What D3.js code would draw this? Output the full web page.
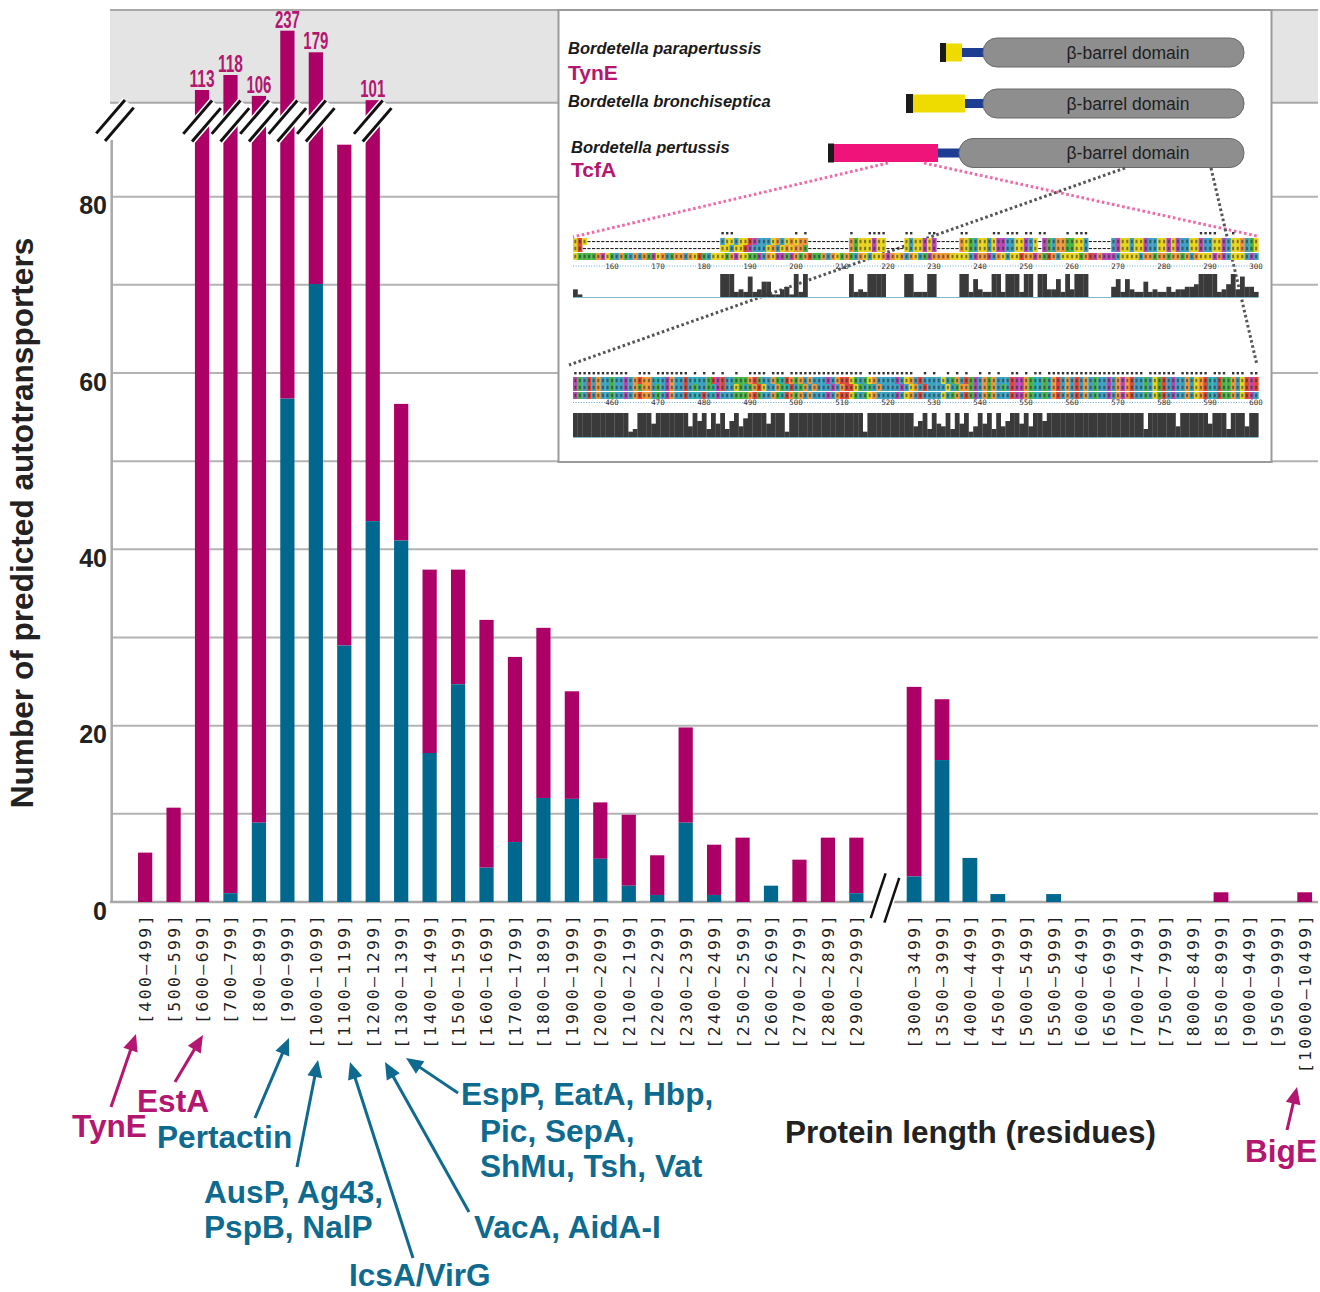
<!DOCTYPE html>
<html><head><meta charset="utf-8">
<script src="https://cdn.jsdelivr.net/npm/d3@7"></script>
<style>body{margin:0;background:#fff}svg{display:block}</style>
</head><body>
<svg id="c" width="1320" height="1292"></svg>
<script>
// ---------- DATA ----------
const binsLeft = ["[400–499]","[500–599]","[600–699]","[700–799]","[800–899]","[900–999]","[1000–1099]","[1100–1199]","[1200–1299]","[1300–1399]","[1400–1499]","[1500–1599]","[1600–1699]","[1700–1799]","[1800–1899]","[1900–1999]","[2000–2099]","[2100–2199]","[2200–2299]","[2300–2399]","[2400–2499]","[2500–2599]","[2600–2699]","[2700–2799]","[2800–2899]","[2900–2999]"];
const totalLeft = [5.6, 10.7, 113, 118, 106, 237, 179, 85.9, 101, 56.5, 37.7, 37.7, 32.0, 27.8, 31.1, 23.9, 11.3, 9.9, 5.3, 19.8, 6.5, 7.3, 1.85, 4.8, 7.3, 7.3];
const tealLeft  = [0, 0, 0, 1.0, 9.0, 57.1, 70.1, 29.1, 43.2, 41.0, 16.9, 24.7, 3.9, 6.8, 11.8, 11.7, 4.9, 1.85, 0.8, 9.0, 0.8, 0, 1.85, 0, 0, 1.0];
const binsRight = ["[3000–3499]","[3500–3999]","[4000–4499]","[4500–4999]","[5000–5499]","[5500–5999]","[6000–6499]","[6500–6999]","[7000–7499]","[7500–7999]","[8000–8499]","[8500–8999]","[9000–9499]","[9500–9999]","[10000–10499]"];
const totalRight = [24.4, 23.0, 5.0, 0.9, 0, 0.9, 0, 0, 0, 0, 0, 1.1, 0, 0, 1.1];
const tealRight  = [2.9, 16.1, 5.0, 0.9, 0, 0.9, 0, 0, 0, 0, 0, 0, 0, 0, 0];
const yTickValues = [0, 20, 40, 60, 80];
const gridValues = [10, 20, 30, 40, 50, 60, 70, 80];
const yTitle = "Number of predicted autotransporters";
const xTitle = "Protein length (residues)";

const species = ["Bordetella parapertussis", "Bordetella bronchiseptica", "Bordetella pertussis"];
const proteinNames = ["TynE", "", "TcfA"];
const domainLabel = "β-barrel domain";

const aln1 = [
 "PRP" + "-----------------------------" + "APPLPPKDLALPGLPGPGG" + "---------" + "GTPPPEPP" + "----" + "PAPPEPE" + "-----" + "GPNAPPVPEDAAPPELP-DNAGGSNPPF" + "-----" + "AEPPAPPEAAPPEPEAAPPEALPPEAPPGAQP",
 "PR-" + "-----------------------------" + "PPLPPKDLALPGLPGPGGS" + "---------" + "GTPPPEPP" + "----" + "PAPPEPE" + "-----" + "GPNAPPVPEDAAPPELP-DNAGGSNPPF" + "-----" + "AEPPAPPEAAPPEPEAAPPEALPPEAPPGAQP",
 "PSTSTGDPSAGNAGAGTEPGASGGAGPKSAPPPSGEPPSSDAGPEDSDGSGRSSGAGPSGSAGPFPPGEGPGVGPATDGGGGPPPPFDGGEAGPAPPRGGDGSRGAPPPPSGRDGDEDCPPPPAGGNGGNGGNGAGPPPDGDAPPPFEA"
];
const hist1 = "310" + "00000000000000000000000000000" + "9992328236611341929" + "000000000" + "92329999" + "0000" + "9922299" + "00000" + "9927322992999299099337293999" + "00000" + "47273226232242334459999235938442";
const ruler1 = [160,170,180,190,200,210,220,230,240,250,260,270,280,290,300];
const aln2 = [
 "DSVRVGAATAIEIGKGGFYLDGIVRVHAFSRERVASTQGRSVAGQYRGNGVGAILELGKRPTWNPGAMFVEVPGLRVAAFPAQGAKTEAGNGLAIRDDGTHMNLGRLGLRVGAQVFDIGDGRVVQVPNKLEVLGVPGRYVRTNGVPKER",
 "DSVRVGAATAIEIGSGGFTMDGIVRVNAFSHEKVAPSAQGRPVAGQYRANGVGAILELGKRPTWNAGAMFVEVPGLKAVAFPAQGGSEAGNGLTIRDDGTHMNLGRVGLRVGAQVFDIGDGRVVQVPNKLEVLGVPGRYVRTNGVPKER",
 "DSVRVGAATAIEIGKGGFTMDGIVRVHARAHEFVASTQGRSVAGQYRGNGVGAILELGKRPTWNPGAMFVEVPGLRVAAFPAQGAKTEAGNGLAIRDDGTHMNLGRLGLRVGAQVFDIGDGRVVQVPNKLEVLGVPGRYVRTNGVPKEA"
];
const hist2 = "9999999999" + "9923999599" + "9999949693" + "9593694799" + "9959992999" + "9999999999" + "9992999999" + "9999469395" + "4939592495" + "9394699594" + "9969999999" + "9999999999" + "9999399999" + "9499999959" + "993999499";
const ruler2 = [460,470,480,490,500,510,520,530,540,550,560,570,580,590,600];

const annotationTexts = ["EstA","TynE","Pertactin","EspP, EatA, Hbp,","Pic, SepA,","ShMu, Tsh, Vat","AusP, Ag43,","PspB, NalP","VacA, AidA-I","IcsA/VirG","BigE"];

// ---------- STYLE ----------
const MAG = "#ad0066", TEAL = "#00688f";
const MAG_T = "#b3176f", TEAL_T = "#0e6a8e";
const GRID = "#b3b3b3";
const SANS = "'Liberation Sans', Arial, Helvetica, sans-serif";

const svg = d3.select("#c");

// ---------- SCALES ----------
const xL = d3.scaleBand().domain(binsLeft).range([123.8, 877.7]).paddingInner(0.5).paddingOuter(0.5);
const xR = d3.scaleBand().domain(binsRight).range([893.6, 1325.2]).padding(0.47);
const yLow = d3.scaleLinear().domain([0, 80]).range([902, 196.7]);
const yHigh = d3.scaleLinear().domain([100, 113, 118, 237]).range([101, 90, 75, 30.7]);
const yPos = v => v <= 92 ? yLow(v) : yHigh(v);

// ---------- BACKGROUND ----------
svg.append("rect").attr("x",110).attr("y",10).attr("width",1208).attr("height",92.7).attr("fill","#e4e4e4");
[10, 102.7].forEach(y => svg.append("line").attr("x1",110).attr("x2",1318).attr("y1",y).attr("y2",y).attr("stroke","#a8a8a8").attr("stroke-width",2));
svg.append("g").selectAll("line").data(gridValues).join("line")
  .attr("x1",112).attr("x2",1318).attr("y1",d=>yLow(d)).attr("y2",d=>yLow(d))
  .attr("stroke",GRID).attr("stroke-width",2);
svg.append("line").attr("x1",111.7).attr("x2",111.7).attr("y1",140).attr("y2",902).attr("stroke","#a8a8a8").attr("stroke-width",2.5);
svg.append("line").attr("x1",110).attr("x2",1318).attr("y1",902).attr("y2",902).attr("stroke","#a8a8a8").attr("stroke-width",2.5);

// ---------- BARS ----------
function drawBars(x, bins, totals, teals){
  const g = svg.append("g");
  const rows = bins.map((b,i)=>({b, t: totals[i], c: teals[i]}));
  g.selectAll("rect.m").data(rows.filter(d=>d.t - d.c > 0)).join("rect")
    .attr("x",d=>x(d.b)).attr("width",x.bandwidth())
    .attr("y",d=>yPos(d.t)).attr("height",d=>yLow(d.c)-yPos(d.t)).attr("fill",MAG);
  g.selectAll("rect.t").data(rows.filter(d=>d.c > 0)).join("rect")
    .attr("x",d=>x(d.b)).attr("width",x.bandwidth())
    .attr("y",d=>yLow(d.c)).attr("height",d=>yLow(0)-yLow(d.c)).attr("fill",TEAL);
  g.selectAll("text").data(rows.filter(d=>d.t > 92)).join("text")
    .attr("x",d=>x(d.b)+x.bandwidth()/2).attr("y",d=>yPos(d.t)-3).attr("text-anchor","middle")
    .attr("textLength",25).attr("lengthAdjust","spacingAndGlyphs")
    .style("font-family",SANS).style("font-weight","bold").style("font-size","23px").attr("fill",MAG_T)
    .text(d=>d3.format("d")(d.t));
}
drawBars(xL, binsLeft, totalLeft, tealLeft);
drawBars(xR, binsRight, totalRight, tealRight);

// ---------- BREAK MARKS ----------
function breakMark(cx, cy, ux, uy, half, gap, bw){
  const g = svg.append("g");
  const nx = -uy, ny = ux;
  g.append("line").attr("x1",cx-ux*half).attr("y1",cy-uy*half).attr("x2",cx+ux*half).attr("y2",cy+uy*half)
    .attr("stroke","#fff").attr("stroke-width",gap*2+bw+3);
  [-1,1].forEach(s=>{
    const ox = cx + s*nx*gap, oy = cy + s*ny*gap;
    g.append("line").attr("x1",ox-ux*half).attr("y1",oy-uy*half).attr("x2",ox+ux*half).attr("y2",oy+uy*half)
      .attr("stroke","#111").attr("stroke-width",bw);
  });
}
const bu = [0.652, -0.757];
breakMark(115, 120.5, bu[0], bu[1], 22, 5.8, 3);
binsLeft.forEach((b,i)=>{ if (totalLeft[i] > 92) breakMark(xL(b)+xL.bandwidth()/2, 121, bu[0], bu[1], 22, 5.8, 3); });
breakMark(885, 898, 0.316, -0.949, 23.5, 7.2, 2.5);

// ---------- AXES ----------
const yAx = svg.append("g").attr("transform","translate(107,0)")
  .call(d3.axisLeft(yLow).tickValues(yTickValues).tickSize(0).tickPadding(0));
yAx.select(".domain").remove();
yAx.selectAll("text").attr("x",0).attr("dy",null).attr("y",17)
  .style("font-family",SANS).style("font-weight","bold").style("font-size","25px").attr("fill","#222");

function xAxis(x){
  const g = svg.append("g").attr("transform","translate(0,913)").call(d3.axisBottom(x).tickSize(0).tickPadding(0));
  g.select(".domain").remove();
  g.selectAll("text").attr("transform","rotate(-90)").attr("text-anchor","end")
    .attr("x",0).attr("y",0).attr("dy","0.36em")
    .style("font-family","'DejaVu Sans Mono', monospace").style("font-size","16.5px")
    .style("letter-spacing","2.4px").attr("fill","#1e1e1e");
}
xAxis(xL); xAxis(xR);

svg.append("text").attr("transform","translate(33,523) rotate(-90)").attr("text-anchor","middle")
  .style("font-family",SANS).style("font-weight","bold").style("font-size","31.6px").attr("fill","#222").text(yTitle);
svg.append("text").attr("x",785).attr("y",1143)
  .style("font-family",SANS).style("font-weight","bold").style("font-size","31.5px").attr("fill","#222").text(xTitle);

// ---------- ANNOTATIONS ----------
const ann = svg.append("g");
function arrow(x1,y1,x2,y2,color){
  const dx=x2-x1, dy=y2-y1, L=Math.hypot(dx,dy), ux=dx/L, uy=dy/L;
  const hl=17, hw=7.5, bx=x2-ux*hl, by=y2-uy*hl;
  ann.append("line").attr("x1",x1).attr("y1",y1).attr("x2",bx+ux*2).attr("y2",by+uy*2).attr("stroke",color).attr("stroke-width",3);
  ann.append("polygon").attr("points",[[x2,y2],[bx-uy*hw,by+ux*hw],[bx+uy*hw,by-ux*hw]].map(p=>p.join(",")).join(" ")).attr("fill",color);
}
const annLayout = [
  [137,1112,MAG_T],[72,1137,MAG_T],[157,1148,TEAL_T],[461,1105,TEAL_T],[480,1142,TEAL_T],[480,1177,TEAL_T],
  [204,1203,TEAL_T],[204,1238,TEAL_T],[474,1238,TEAL_T],[349,1286,TEAL_T],[1245,1162,MAG_T]
];
annotationTexts.forEach((t,i)=>{
  ann.append("text").attr("x",annLayout[i][0]).attr("y",annLayout[i][1]).attr("fill",annLayout[i][2])
    .style("font-family",SANS).style("font-weight","bold").style("font-size","31.6px").text(t);
});
arrow(111,1107,136,1034,MAG_T);
arrow(175,1082,203,1035,MAG_T);
arrow(255,1118,289,1038,TEAL_T);
arrow(297,1167,318,1060,TEAL_T);
arrow(413,1258,350,1062,TEAL_T);
arrow(469,1212,385,1062,TEAL_T);
arrow(458,1093,406,1058,TEAL_T);
arrow(1287,1130,1297,1087,MAG_T);

// ---------- INSET ----------
const ins = svg.append("g");
ins.append("rect").attr("x",558.5).attr("y",10).attr("width",713).attr("height",452).attr("fill","#fff").attr("stroke","#9a9a9a").attr("stroke-width",2);

const spLayout = [[568,54],[568,107],[571,153]];
species.forEach((s,i)=>{
  ins.append("text").attr("x",spLayout[i][0]).attr("y",spLayout[i][1]).style("font-family",SANS)
    .style("font-weight","bold").style("font-style","italic").style("font-size","16.5px").attr("fill","#1a1a1a").text(s);
});
const pnLayout = [[568,80],null,[571,177]];
proteinNames.forEach((p,i)=>{ if(!p) return;
  ins.append("text").attr("x",pnLayout[i][0]).attr("y",pnLayout[i][1]).style("font-family",SANS)
    .style("font-weight","bold").style("font-size","21px").attr("fill",MAG_T).text(p);
});

const domLayout = [
  [940, 946, 962, 983, 52.5, "#eedc00"],
  [906, 913, 965, 983, 103.5, "#eedc00"],
  [828, 834, 938, 959, 153, "#ee1479"]
];
const dots = svg.append("g");
function dotted(x1,y1,x2,y2,color){
  dots.append("line").attr("x1",x1).attr("y1",y1).attr("x2",x2).attr("y2",y2)
    .attr("stroke",color).attr("stroke-width",3).attr("stroke-dasharray","2.6,2.6");
}
dotted(888,163,573,237,"#f06aa8");
dotted(924,163,1257,236,"#f06aa8");
dotted(1125,168,569,365,"#555");
dotted(1211,168,1257,365,"#555");

domLayout.forEach((d,i)=>{
  const [bx,px,lx,gx,cy,pc] = d;
  ins.append("rect").attr("x",lx).attr("y",cy-4.5).attr("width",gx-lx+5).attr("height",9).attr("fill","#1d3d92");
  ins.append("rect").attr("x",gx).attr("y",cy-14.5).attr("width",1244-gx).attr("height",29).attr("rx",14).attr("fill","#8e8e8e").attr("stroke","#6a6a6a").attr("stroke-width",1);
  ins.append("rect").attr("x",px).attr("y",cy-9).attr("width",lx-px).attr("height",18).attr("fill",pc);
  ins.append("rect").attr("x",bx).attr("y",cy-9.5).attr("width",px-bx).attr("height",19).attr("fill","#1a1a1a");
  ins.append("text").attr("x",1128).attr("y",cy+6).attr("text-anchor","middle").style("font-family",SANS)
    .style("font-size","17.5px").attr("fill","#1e1e1e").text(domainLabel);
});

const resColor = c => {
  if ("AILMFWVC".includes(c)) return "#3fa2c2";
  if (c === "P") return "#e8d420";
  if (c === "G") return "#ef983c";
  if ("DE".includes(c)) return "#b84ab4";
  if ("KR".includes(c)) return "#de4a3c";
  if ("NQST".includes(c)) return "#4bb44a";
  if ("HY".includes(c)) return "#28b4b0";
  return "#ffffff";
};
function alignment(seqs, hist, ruler, startPos, yStar, rowYs, yRuler, yTop, yBase){
  const g = svg.append("g");
  const N = 149;
  const col = d3.scaleLinear().domain([0, N]).range([573, 573 + N*4.6]);
  const cw = col(1) - col(0);
  seqs.forEach((s, r) => {
    const cells = s.split("").map((c,i)=>({c,i})).filter(d=>d.i < N);
    g.selectAll(null).data(cells.filter(d=>d.c!=="-")).join("rect")
      .attr("x",d=>col(d.i)).attr("y",rowYs[r]).attr("width",cw+0.25).attr("height",7).attr("fill",d=>resColor(d.c));
    g.selectAll(null).data(cells.filter(d=>d.c!=="-")).join("rect")
      .attr("x",d=>col(d.i)+1.3).attr("y",rowYs[r]+1.8).attr("width",2).attr("height",3.4).attr("fill","#222").attr("opacity",0.55);
    g.selectAll(null).data(cells.filter(d=>d.c==="-")).join("rect")
      .attr("x",d=>col(d.i)+0.6).attr("y",rowYs[r]+3).attr("width",3.2).attr("height",1.1).attr("fill","#222");
  });
  const hv = hist.split("").map((v,i)=>({v:+v,i})).filter(d=>d.i < N);
  g.selectAll(null).data(hv.filter(d=>d.v===9)).join("rect")
    .attr("x",d=>col(d.i)+1.2).attr("y",yStar).attr("width",2.4).attr("height",2.4).attr("fill","#333");
  g.append("line").attr("x1",col(0)).attr("x2",col(N)).attr("y1",yRuler).attr("y2",yRuler)
    .attr("stroke","#6aa8d0").attr("stroke-width",1).attr("stroke-dasharray","1,1.6");
  g.selectAll(null).data(ruler).join("text")
    .attr("x",d=>col(d - startPos + 0.5)).attr("y",yRuler+2.5).attr("text-anchor","middle")
    .style("font-family","'DejaVu Sans Mono', monospace").style("font-size","7.5px").attr("fill","#333").text(d=>d);
  const hy = d3.scaleLinear().domain([0,9]).range([yBase, yTop]);
  g.selectAll(null).data(hv.filter(d=>d.v>0)).join("rect")
    .attr("x",d=>col(d.i)).attr("width",cw+0.2).attr("y",d=>hy(d.v)).attr("height",d=>yBase-hy(d.v)).attr("fill","#3a3a3a");
  g.append("line").attr("x1",col(0)).attr("x2",col(N)).attr("y1",yBase+0.5).attr("y2",yBase+0.5)
    .attr("stroke","#7fb8cc").attr("stroke-width",1.2);
}
alignment(aln1, hist1, ruler1, 152, 232, [238, 245, 253], 266, 274, 297);
alignment(aln2, hist2, ruler2, 452, 372, [377, 384, 392], 402.5, 413, 437);
</script>
</body></html>
